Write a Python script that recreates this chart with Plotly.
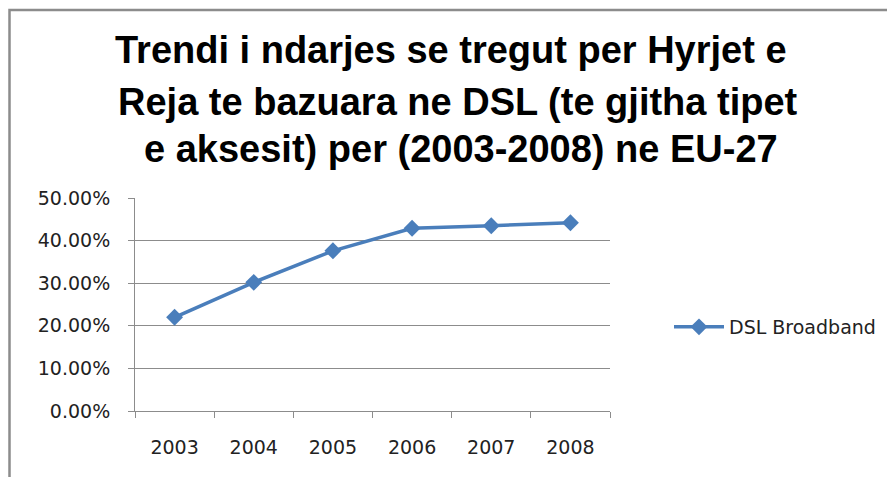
import plotly.graph_objects as go

years = ["2003", "2004", "2005", "2006", "2007", "2008"]
dsl_share = [0.220, 0.302, 0.376, 0.429, 0.435, 0.442]
series_name = "DSL Broadband"
title_lines = [
    "Trendi i ndarjes se tregut per Hyrjet e",
    "Reja te bazuara ne DSL (te gjitha tipet",
    "e aksesit) per (2003-2008) ne EU-27",
]
y_ticks = [0, 0.1, 0.2, 0.3, 0.4, 0.5]

# page body has an 8px margin; work in figure coordinates
OFF = 8
W, H = 895 - OFF, 477 - OFF
L, R, T, B = 135 - OFF, 285, 198 - OFF, 66
pw = W - L - R
ph = H - T - B


def px_x(p):
    return (p - OFF - L) / pw


def px_y(p):
    return (H - B - (p - OFF)) / ph


fig = go.Figure()
fig.add_trace(go.Scatter(
    x=years, y=dsl_share, name=series_name, mode="lines+markers",
    line=dict(color="#4A7EBB", width=3.5),
    marker=dict(symbol="diamond", size=13, color="#4A7EBB"),
))

fig.add_shape(type="rect", xref="paper", yref="paper",
              x0=px_x(OFF + 1.5), x1=px_x(1000), y0=px_y(700), y1=px_y(10),
              line=dict(color="#8c8c8c", width=2.5), fillcolor="rgba(0,0,0,0)")

title_centers = [(451, 50), (458, 102), (461, 149)]
for line, (cx, cy) in zip(title_lines, title_centers):
    fig.add_annotation(text=line, xref="paper", yref="paper",
                       x=px_x(cx), y=px_y(cy), xanchor="center", yanchor="middle",
                       showarrow=False,
                       font=dict(family="Liberation Sans, Arial, sans-serif",
                                 size=38, color="black", weight="bold"))

fig.update_layout(
    width=W, height=H,
    margin=dict(l=L, r=R, t=T, b=B),
    paper_bgcolor="white", plot_bgcolor="white",
    showlegend=True,
    legend=dict(x=px_x(669), y=px_y(327), xanchor="left", yanchor="middle",
                font=dict(family="DejaVu Sans", size=19, color="#222"),
                bgcolor="rgba(0,0,0,0)", itemwidth=50),
    font=dict(family="DejaVu Sans", size=19, color="#222"),
)
fig.update_xaxes(type="category", range=[-0.5, 5.5], showgrid=False,
                 showline=True, linecolor="#8c8c8c", linewidth=1,
                 ticks="outside", tickson="boundaries", ticklen=6, tickcolor="#8c8c8c",
                 ticklabelstandoff=19, tickfont=dict(size=19, color="#222"))
fig.update_yaxes(range=[0, 0.5], tickvals=y_ticks, tickformat=".2%",
                 showgrid=True, gridcolor="#8c8c8c", gridwidth=1,
                 showline=True, linecolor="#8c8c8c", linewidth=1,
                 ticks="outside", ticklen=6, tickcolor="#8c8c8c",
                 ticklabelstandoff=14, zeroline=False,
                 tickfont=dict(size=19, color="#222"))

fig.write_html("out.html")
